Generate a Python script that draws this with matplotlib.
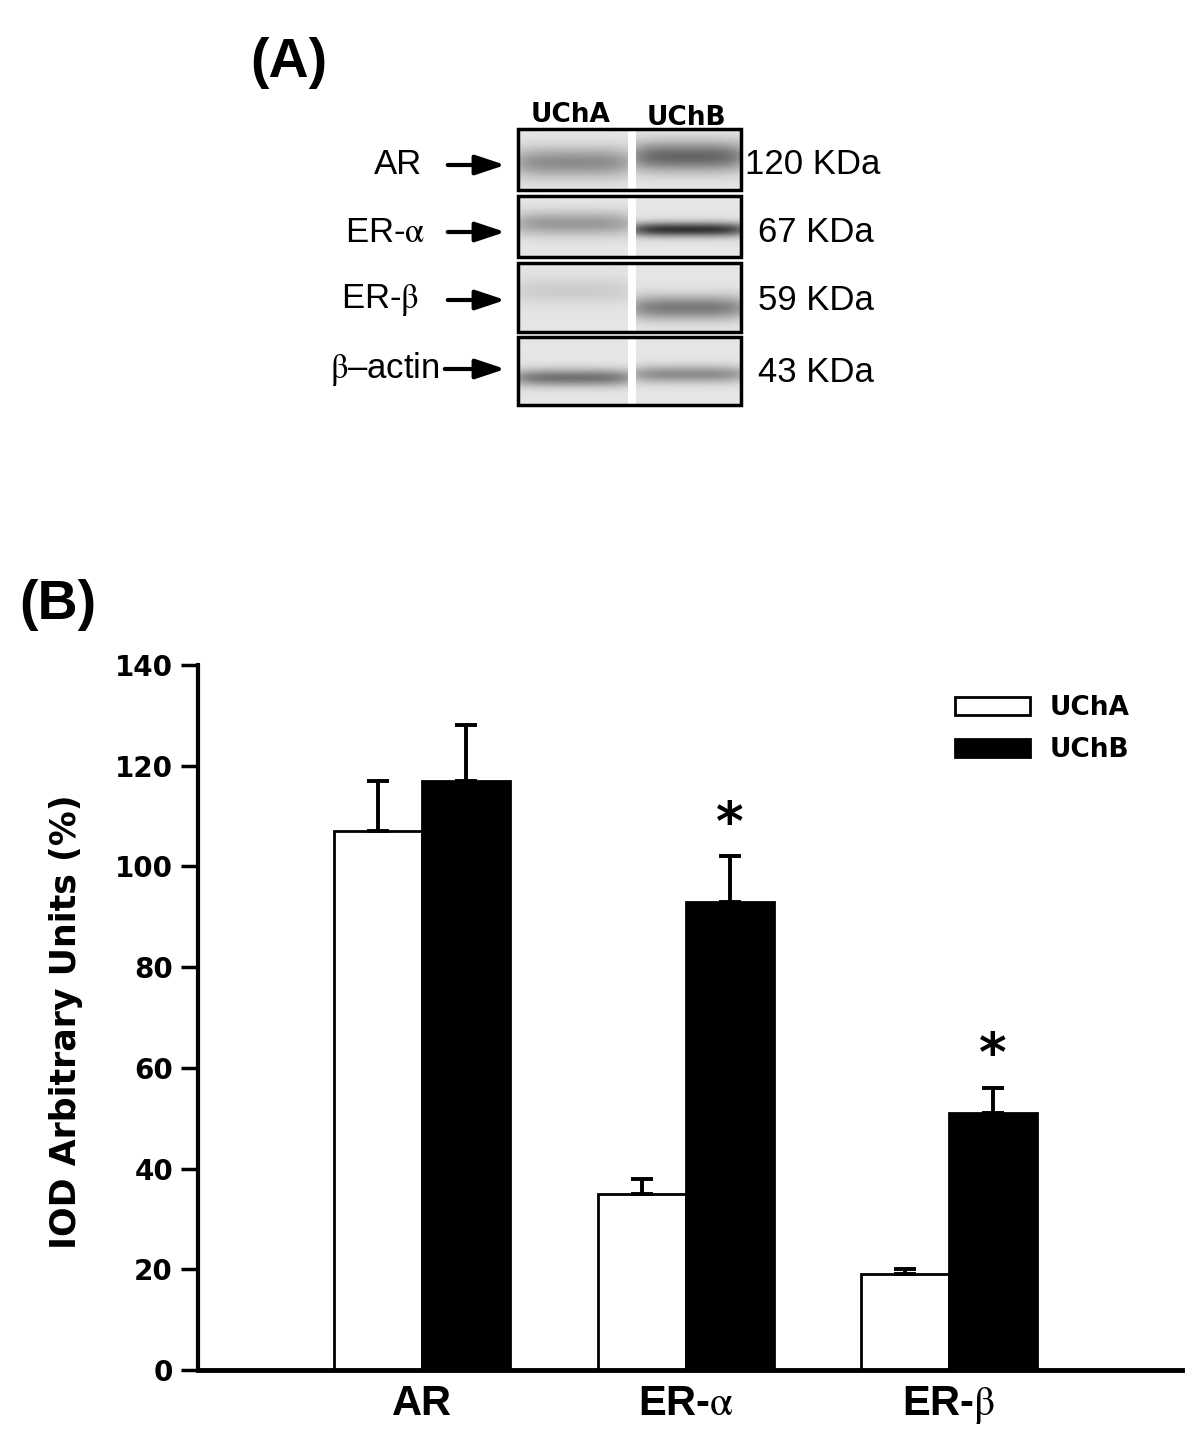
import matplotlib
matplotlib.use('Agg')
import matplotlib.pyplot as plt
import numpy as np
from matplotlib.patches import Rectangle

plt.rcParams['mathtext.fontset'] = 'stix'

# ---- panel B data ----
groups = ['AR', 'ER-$\\mathrm{\\alpha}$', 'ER-$\\mathrm{\\beta}$']
ucha = [107, 35, 19]
ucha_err = [10, 3, 1]
uchb = [117, 93, 51]
uchb_err = [11, 9, 5]
signif = [False, True, True]   # asterisk over UChB

# ---- panel A (western blot) ----
blot_rows = ['AR', 'ER-$\\mathrm{\\alpha}$', 'ER-$\\mathrm{\\beta}$', '$\\mathrm{\\beta}$\u2013actin']
blot_kda = ['120 KDa', '67 KDa', '59 KDa', '43 KDa']
# band: (centre as fraction of box height, width, darkness) per lane
band_a = [(0.55, 0.25, 0.35), (0.45, 0.20, 0.30), (0.40, 0.20, 0.10), (0.60, 0.13, 0.45)]
band_b = [(0.45, 0.25, 0.50), (0.55, 0.12, 0.70), (0.65, 0.18, 0.42), (0.55, 0.13, 0.35)]

fig = plt.figure(figsize=(12, 14.32), dpi=100)

# overlay in pixel coordinates for panel A and labels
ov = fig.add_axes([0, 0, 1, 1])
ov.set_xlim(0, 1200)
ov.set_ylim(1432, 0)
ov.axis('off')

ov.text(289, 63, '(A)', ha='center', va='center', fontsize=40,
        fontweight='bold', family='Liberation Sans')
ov.text(58, 605, '(B)', ha='center', va='center', fontsize=40,
        fontweight='bold', family='Liberation Sans')

ov.text(571, 115, 'UChA', ha='center', va='center', fontsize=19,
        fontweight='bold', family='DejaVu Sans')
ov.text(686, 118, 'UChB', ha='center', va='center', fontsize=19,
        fontweight='bold', family='DejaVu Sans')

box_x0, box_x1 = 518, 741
gap0, gap1 = 628, 636
boxes_y = [(129, 190), (196, 257), (263, 332), (337, 405)]
label_right = [422, 425, 419, 440]
arrow_start = [445, 445, 445, 442]
label_y = [165, 232, 300, 369]
kda_x = [745, 758, 758, 758]
kda_y = [165, 232, 300, 372]

ncol = 223
xs = np.linspace(box_x0, box_x1, ncol)
for i, (y0, y1) in enumerate(boxes_y):
    nrow = 60
    fy = np.linspace(0, 1, nrow)[:, None]
    img = np.full((nrow, ncol), 0.10)
    for (lx0, lx1), (c, w, d) in zip([(box_x0, gap0), (gap1, box_x1)], [band_a[i], band_b[i]]):
        m = (xs >= lx0) & (xs <= lx1)
        u = (xs[m] - (lx0 + lx1) / 2) / ((lx1 - lx0) / 2)
        lat = 1 - 0.35 * u ** 4
        img[:, m] += d * np.exp(-((fy - c) / w) ** 2) * lat[None, :]
    gm = (xs > gap0) & (xs < gap1)
    img[:, gm] = 0.0
    ov.imshow(img, cmap='gray_r', vmin=0, vmax=1, extent=(box_x0, box_x1, y1, y0),
              aspect='auto', interpolation='bilinear', zorder=1)
    ov.add_patch(Rectangle((box_x0, y0), box_x1 - box_x0, y1 - y0, fill=False,
                           edgecolor='black', lw=2.5, zorder=2))
    ov.text(label_right[i], label_y[i], blot_rows[i], ha='right', va='center',
            fontsize=25, family='Liberation Sans')
    ov.annotate('', xy=(508, label_y[i]), xytext=(arrow_start[i], label_y[i]),
                arrowprops=dict(arrowstyle='-|>,head_length=0.9,head_width=0.3',
                                lw=3, color='black', mutation_scale=20))
    ov.text(kda_x[i], kda_y[i], blot_kda[i], ha='left', va='center',
            fontsize=25, family='Liberation Sans')
ov.set_xlim(0, 1200)
ov.set_ylim(1432, 0)

# ---- panel B bar chart ----
ax = fig.add_axes([198 / 1200, 1 - 1370 / 1432, 984 / 1200, 705 / 1432])
x = np.arange(len(groups))
w = 0.334
ekw = dict(elinewidth=2.8, capthick=2.8, ecolor='black')
ax.bar(x - w / 2, ucha, w, color='white', edgecolor='black', lw=2,
       yerr=[np.zeros(3), ucha_err], capsize=8, error_kw=ekw, label='UChA')
ax.bar(x + w / 2, uchb, w, color='black', edgecolor='black', lw=2,
       yerr=[np.zeros(3), uchb_err], capsize=8, error_kw=ekw, label='UChB')

for i in range(len(groups)):
    if signif[i]:
        ax.annotate('*', xy=(x[i] + w / 2, uchb[i] + uchb_err[i]), xytext=(0, 4),
                    textcoords='offset points', ha='center', va='bottom',
                    fontsize=38, fontweight='bold', family='DejaVu Sans')

ax.set_xlim(-0.85, 2.884)
ax.set_ylim(0, 140)
ax.set_yticks(np.arange(0, 141, 20))
ax.set_xticks(x)
ax.set_xticklabels(groups, fontsize=30, fontweight='bold', family='Liberation Sans')
for lab in ax.get_yticklabels():
    lab.set_fontsize(20)
    lab.set_fontweight('bold')
    lab.set_family('DejaVu Sans')
ax.tick_params(axis='y', direction='out', length=12, width=2.5, pad=6)
ax.tick_params(axis='x', length=0, pad=10)
for s in ['top', 'right']:
    ax.spines[s].set_visible(False)
ax.spines['left'].set_linewidth(3)
ax.spines['bottom'].set_linewidth(3.5)

fig.text(66 / 1200, 1 - 1022 / 1432, 'IOD Arbitrary Units (%)', rotation=90,
         ha='center', va='center', fontsize=25, fontweight='bold', family='DejaVu Sans')

ax.legend(loc='upper left', bbox_to_anchor=(955 / 1200, 1 - 695 / 1432),
          bbox_transform=fig.transFigure, frameon=False, borderpad=0,
          borderaxespad=0, handlelength=2.84, handleheight=0.68,
          handletextpad=0.76, labelspacing=0.6,
          prop=dict(family='DejaVu Sans', weight='bold', size=19))

fig.savefig('out.png', dpi=100)
